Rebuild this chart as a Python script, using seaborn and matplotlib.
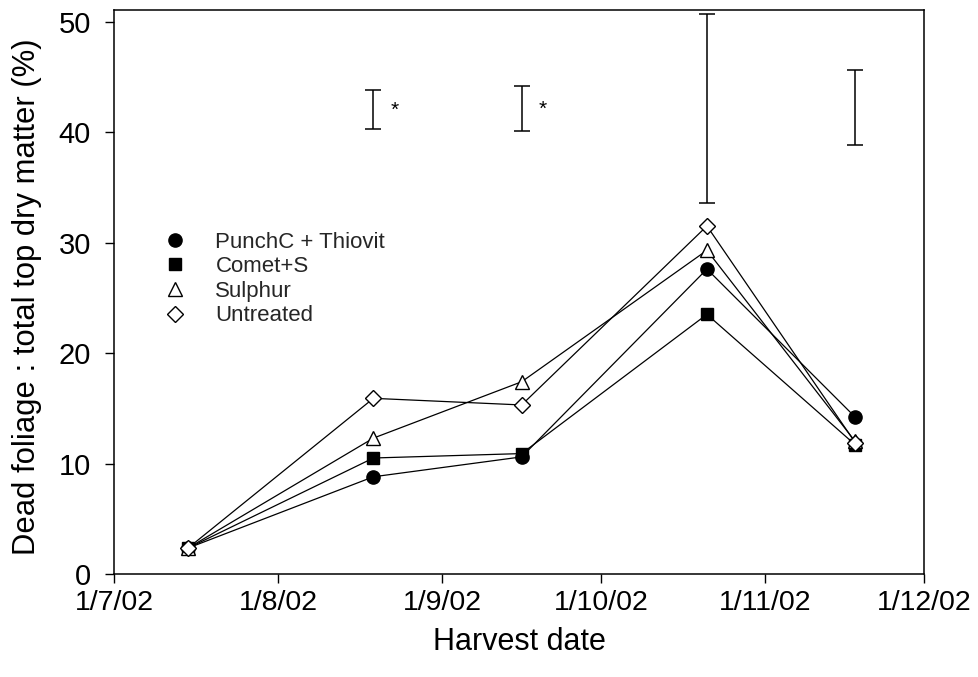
import numpy as np
import pandas as pd
import matplotlib
matplotlib.use("Agg")
import matplotlib.pyplot as plt
from matplotlib.lines import Line2D
from matplotlib.ticker import FuncFormatter
import matplotlib.dates as mdates
import seaborn as sns

# ---------------- data ----------------
harvest_dates = ["2002-07-15", "2002-08-19", "2002-09-16", "2002-10-21", "2002-11-18"]
treatments = ["PunchC + Thiovit", "Comet+S", "Sulphur", "Untreated"]
punchc_thiovit = [2.35, 8.8, 10.6, 27.6, 14.2]
comet_s = [2.35, 10.5, 10.9, 23.5, 11.7]
sulphur = [2.35, 12.3, 17.4, 29.3, 12.0]
untreated = [2.35, 15.9, 15.3, 31.5, 11.9]

lsd_dates = ["2002-08-19", "2002-09-16", "2002-10-21", "2002-11-18"]
lsd_center = [42.05, 42.15, 42.15, 42.2]
lsd_half = [1.75, 2.05, 8.55, 3.4]
lsd_marks = ["*", "*", "", ""]

x_start, x_end = "2002-07-01", "2002-12-01"
y_ticks = [0, 10, 20, 30, 40, 50]
x_label = "Harvest date"
y_label = "Dead foliage : total top dry matter (%)"

series = {
    "PunchC + Thiovit": punchc_thiovit,
    "Comet+S": comet_s,
    "Sulphur": sulphur,
    "Untreated": untreated,
}
rows = []
for t in treatments:
    for d, v in zip(harvest_dates, series[t]):
        rows.append({"date": pd.Timestamp(d), "value": v, "treatment": t})
df = pd.DataFrame(rows)

marker_map = {"PunchC + Thiovit": "o", "Comet+S": "s", "Sulphur": "^", "Untreated": "D"}
face_map = {"PunchC + Thiovit": "black", "Comet+S": "black", "Sulphur": "white", "Untreated": "white"}
size_map = {"PunchC + Thiovit": 9.5, "Comet+S": 8.5, "Sulphur": 9.5, "Untreated": 7.8}

# ---------------- style ----------------
sns.set_theme(style="ticks")
plt.rcParams["font.family"] = ["Liberation Sans", "DejaVu Sans"]
plt.rcParams["axes.edgecolor"] = "black"
plt.rcParams["axes.linewidth"] = 1.1

fig = plt.figure(figsize=(9.79, 6.77), dpi=100)
ax = fig.add_axes([114 / 979, 1 - 574 / 677, 810 / 979, 564 / 677])
ax.set_facecolor("white")

for t in treatments:
    sub = df[df["treatment"] == t]
    sns.lineplot(data=sub, x="date", y="value", ax=ax, color="black",
                 marker=marker_map[t], markersize=size_map[t],
                 markerfacecolor=face_map[t], markeredgecolor="black",
                 markeredgewidth=1.0, linewidth=0.9, legend=False, errorbar=None)

lsd_x = [pd.Timestamp(d) for d in lsd_dates]
ax.errorbar(lsd_x, lsd_center, yerr=lsd_half, fmt="none", ecolor="black",
            elinewidth=1.1, capsize=6, capthick=1.1)
for xd, yc, mk in zip(lsd_x, lsd_center, lsd_marks):
    if mk:
        ax.annotate(mk, xy=(xd, yc), xytext=(15, -0.5), textcoords="offset points",
                    ha="center", va="center", fontsize=15, color="black")

ax.set_xlim(pd.Timestamp(x_start), pd.Timestamp(x_end))
ax.set_ylim(0, 51.05)
ax.set_yticks(y_ticks)
ax.xaxis.set_major_locator(mdates.MonthLocator())
ax.xaxis.set_major_formatter(FuncFormatter(
    lambda v, pos: (lambda d: f"{d.day}/{d.month}/{d:%y}")(mdates.num2date(v))))

for s in ax.spines.values():
    s.set_visible(True)
    s.set_color("black")
    s.set_linewidth(1.1)

ax.tick_params(axis="both", direction="out", length=6.5, width=1.0, colors="black",
               labelsize=21, top=False, right=False)
ax.tick_params(axis="x", pad=5, labelsize=20.5)
ax.tick_params(axis="y", pad=10)

ax.set_xlabel(x_label, fontsize=22, labelpad=8, color="black")
ax.set_ylabel(y_label, fontsize=22.3, color="black")
ax.yaxis.set_label_coords(-0.089, 0.491)

handles = [Line2D([], [], marker=marker_map[t], linestyle="none", color="black",
                  markerfacecolor=face_map[t], markeredgecolor="black",
                  markersize=size_map[t], markeredgewidth=1.0) for t in treatments]
ax.legend(handles, treatments, loc="upper left", bbox_to_anchor=(0.064, 0.607),
          frameon=False, fontsize=16, handlelength=0.85, handletextpad=1.38,
          labelspacing=0.16, borderpad=0, borderaxespad=0)

fig.savefig("out.png", dpi=100)
